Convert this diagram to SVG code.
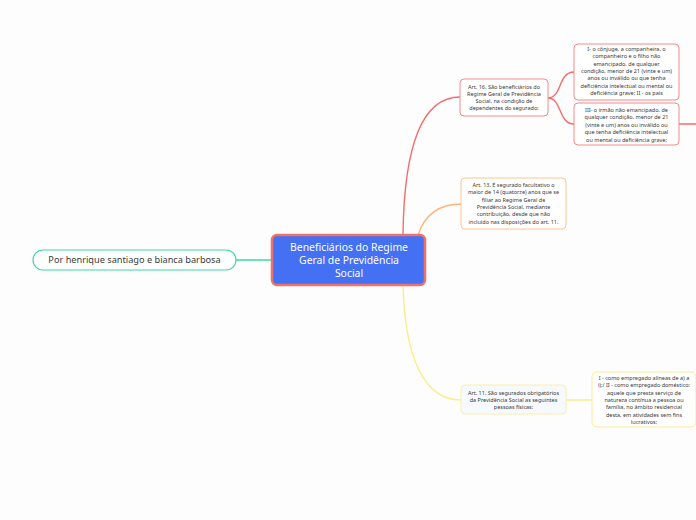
<svg xmlns="http://www.w3.org/2000/svg" width="696" height="520" viewBox="0 0 696 520">
<style>
text{font-family:"Noto Sans",Lato,"Liberation Sans",sans-serif;fill:#3a3a3a;text-anchor:middle}
.s{font-size:5.5px}
.c{fill:none;stroke-width:1.4;stroke-linecap:round}
.box{stroke-width:1}
</style>
<rect width="696" height="520" fill="#fdfdfd"/>
<g id="connectors">
<path class="c" stroke="#3fd6a5" d="M236 260 L272 260"/>
<path class="c" stroke="#f26d6d" d="M403 235 C404 150 420 97 460 97"/>
<path class="c" stroke="#ffb47a" d="M418 235 C425 214 440 204 461 204"/>
<path class="c" stroke="#f9ef8a" d="M403 285 C405 360 425 400 461 400"/>
<path class="c" stroke="#f26d6d" d="M548 98 C562 98 558 72 574 72"/>
<path class="c" stroke="#f26d6d" d="M548 98 C562 98 558 124 574 124"/>
<path class="c" stroke="#f26d6d" d="M679 124 L696 124"/>
<path class="c" stroke="#f9ef8a" d="M566 400 L592 400"/>
</g>
<g id="central">
<rect x="272" y="235" width="153" height="50" rx="5" fill="#4470f4" stroke="#f0706a" stroke-width="2.5"/>
<text x="349" y="251" style="font-size:10.4px;fill:#fff">Beneficiários do Regime</text>
<text x="349" y="264" style="font-size:10.4px;fill:#fff">Geral de Previdência</text>
<text x="349" y="277" style="font-size:10.4px;fill:#fff">Social</text>
</g>
<g id="author">
<rect x="33" y="250" width="203" height="20" rx="10" fill="#fff" stroke="#3fd6a5" stroke-width="1.2"/>
<text x="134.5" y="263" style="font-size:9.2px">Por henrique santiago e bianca barbosa</text>
</g>
<g id="art16">
<rect x="460" y="79" width="88" height="37" rx="4" class="box" fill="#fff" stroke="#f48a8a"/>
<text class="s" x="504" y="89">Art. 16. São beneficiários do</text>
<text class="s" x="504" y="96">Regime Geral de Previdência</text>
<text class="s" x="504" y="103">Social, na condição de</text>
<text class="s" x="504" y="110">dependentes do segurado:</text>
</g>
<g id="inciso1">
<rect x="574" y="44" width="105" height="56" rx="4" class="box" fill="#fff" stroke="#f48a8a"/>
<text class="s" x="626.5" y="51">I- o cônjuge, a companheira, o</text>
<text class="s" x="626.5" y="58.3">companheiro e o filho não</text>
<text class="s" x="626.5" y="65.6">emancipado, de qualquer</text>
<text class="s" x="626.5" y="72.9">condição, menor de 21 (vinte e um)</text>
<text class="s" x="626.5" y="80.2">anos ou inválido ou que tenha</text>
<text class="s" x="626.5" y="87.5">deficiência intelectual ou mental ou</text>
<text class="s" x="626.5" y="94.8">deficiência grave; II - os pais</text>
</g>
<g id="inciso3">
<rect x="574" y="103" width="105" height="42" rx="4" class="box" fill="#fff" stroke="#f48a8a"/>
<text class="s" x="626.5" y="111.5">III- o irmão não emancipado, de</text>
<text class="s" x="626.5" y="119">qualquer condição, menor de 21</text>
<text class="s" x="626.5" y="126.5">(vinte e um) anos ou inválido ou</text>
<text class="s" x="626.5" y="134">que tenha deficiência intelectual</text>
<text class="s" x="626.5" y="141.5">ou mental ou deficiência grave;</text>
</g>
<g id="art13">
<rect x="461" y="178" width="105" height="51" rx="4" class="box" fill="#fff" stroke="#fcc596"/>
<text class="s" x="513.5" y="187">Art. 13. É segurado facultativo o</text>
<text class="s" x="513.5" y="194.3">maior de 14 (quatorze) anos que se</text>
<text class="s" x="513.5" y="201.6">filiar ao Regime Geral de</text>
<text class="s" x="513.5" y="208.9">Previdência Social, mediante</text>
<text class="s" x="513.5" y="216.2">contribuição, desde que não</text>
<text class="s" x="513.5" y="223.5">incluído nas disposições do art. 11.</text>
</g>
<g id="art11">
<rect x="461" y="385" width="105" height="29" rx="4" class="box" fill="#f6f9fd" stroke="#faf0a5"/>
<text class="s" x="513.5" y="395">Art. 11. São segurados obrigatórios</text>
<text class="s" x="513.5" y="402">da Previdência Social as seguintes</text>
<text class="s" x="513.5" y="409">pessoas físicas:</text>
</g>
<g id="inciso1art11">
<rect x="592" y="372" width="104" height="55" rx="5" class="box" fill="#fff" stroke="#f8ec9a"/>
<text class="s" x="644" y="380">I - como empregado alíneas de a) a</text>
<text class="s" x="644" y="387.3">i);/ II - como empregado doméstico:</text>
<text class="s" x="644" y="394.6">aquele que presta serviço de</text>
<text class="s" x="644" y="401.9">natureza contínua a pessoa ou</text>
<text class="s" x="644" y="409.2">família, no âmbito residencial</text>
<text class="s" x="644" y="416.5">desta, em atividades sem fins</text>
<text class="s" x="644" y="423.8">lucrativos;</text>
</g>
</svg>
